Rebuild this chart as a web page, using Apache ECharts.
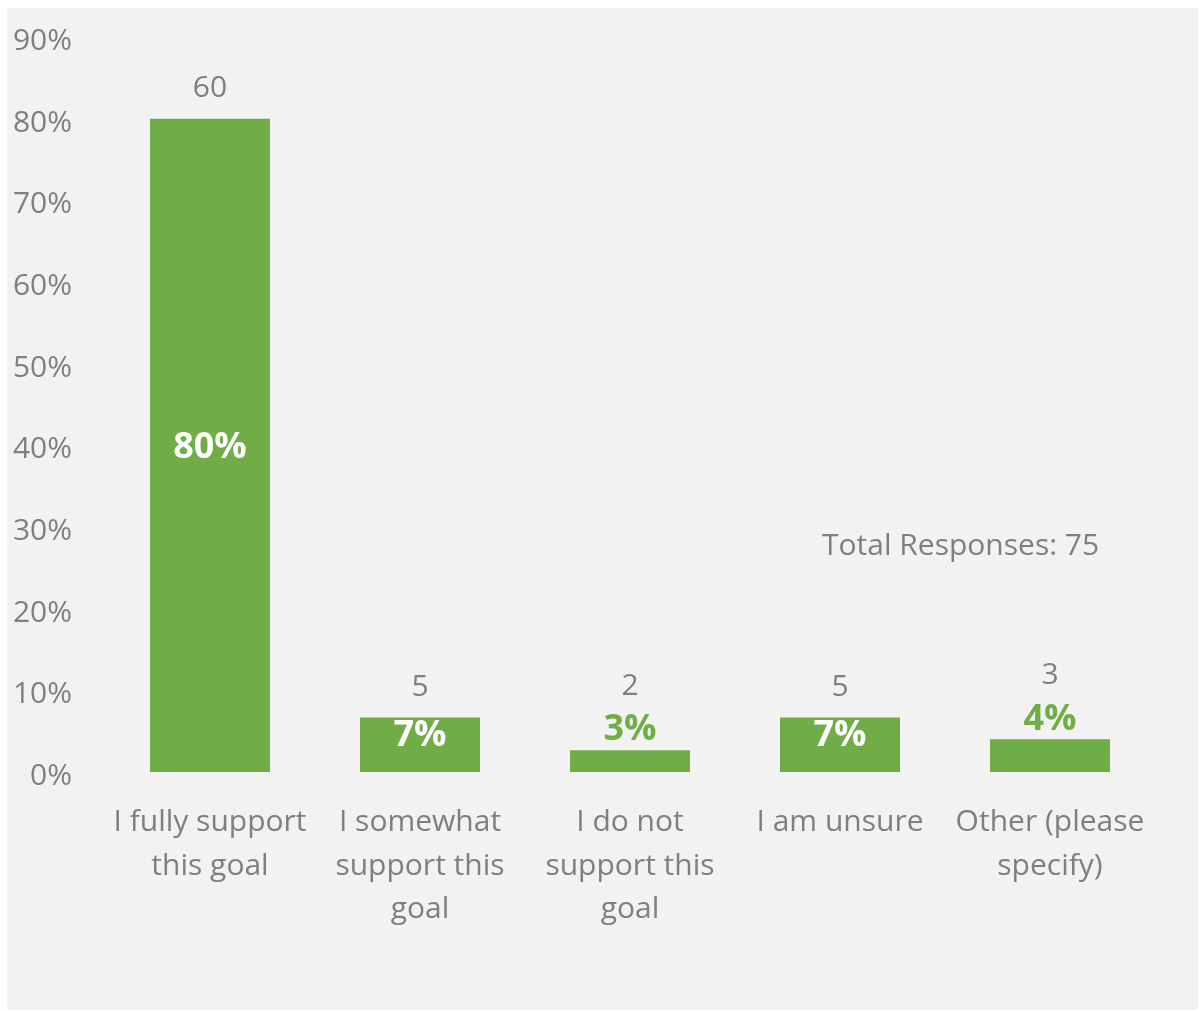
<!DOCTYPE html>
<html>
<head>
<meta charset="utf-8">
<title>Support for the goal</title>
<script src="https://cdn.jsdelivr.net/npm/echarts@6/dist/echarts.min.js"></script>
<style>
  html, body { margin: 0; padding: 0; background: #ffffff; }
  #chart { width: 1202px; height: 1011px; }
</style>
</head>
<body>
<div id="chart"></div>
<script>
// Survey answers and how many people picked each one
const categories = [
  'I fully support\nthis goal',
  'I somewhat\nsupport this\ngoal',
  'I do not\nsupport this\ngoal',
  'I am unsure',
  'Other (please\nspecify)'
];
const responseCounts = [60, 5, 2, 5, 3];
const totalResponses = 75;
const yTickLabels = ['0%', '10%', '20%', '30%', '40%', '50%', '60%', '70%', '80%', '90%'];

// Share of all responses, in percent
const shares = responseCounts.map(c => c / totalResponses * 100);

const GREEN = '#70ad47';
const GREY = '#7f7f7f';
const FONT = '"Open Sans", "Noto Sans", sans-serif';

// Short bars get their percentage written above them in green;
// taller ones carry it inside in white.
const isShort = v => v < 5;

const shareData = shares.map(v => ({
  value: v,
  label: isShort(v)
    ? { position: 'top', color: GREEN, distance: 2 }
    : (v < 10
        ? { position: 'inside', color: '#ffffff', offset: [0, -9] }
        : { position: 'inside', color: '#ffffff', offset: [0, 2] })
}));

const countData = shares.map(v => ({
  value: v,
  label: { distance: isShort(v) ? 49 : 15 }
}));

const chart = echarts.init(document.getElementById('chart'), null, { renderer: 'canvas' });

chart.setOption({
  backgroundColor: '#ffffff',
  animation: false,
  textStyle: { fontFamily: FONT },
  graphic: [
    {
      type: 'rect',
      z: -10,
      silent: true,
      shape: { x: 7, y: 8, width: 1191, height: 1002 },
      style: { fill: '#f2f2f2' }
    },
    {
      type: 'text',
      left: 822,
      top: 531,
      style: {
        text: 'Total Responses: ' + totalResponses,
        fill: GREY,
        font: '30px ' + FONT
      }
    }
  ],
  grid: { left: 105, right: 47, top: 37, bottom: 239, containLabel: false },
  xAxis: {
    type: 'category',
    data: categories,
    axisLine: { show: false },
    axisTick: { show: false },
    axisLabel: {
      color: GREY,
      fontSize: 30,
      lineHeight: 43.5,
      margin: 29,
      interval: 0,
      fontFamily: FONT
    }
  },
  yAxis: {
    type: 'value',
    min: 0,
    max: 90,
    interval: 10,
    splitLine: { show: false },
    axisLine: { show: false },
    axisTick: { show: false },
    axisLabel: {
      color: GREY,
      fontSize: 30,
      margin: 33,
      fontFamily: FONT,
      formatter: v => '{t|' + yTickLabels[Math.round(v / 10)] + '}',
      rich: {
        t: { color: GREY, fontSize: 30, fontFamily: FONT, padding: [9, 0, 0, 0] }
      }
    }
  },
  series: [
    {
      name: 'Share',
      type: 'bar',
      barWidth: 120,
      itemStyle: { color: GREEN },
      data: shareData,
      label: {
        show: true,
        fontSize: 36,
        fontWeight: 'bold',
        fontFamily: FONT,
        formatter: p => Math.round(p.value) + '%'
      },
      z: 2
    },
    {
      name: 'Responses',
      type: 'bar',
      barWidth: 120,
      barGap: '-100%',
      itemStyle: { color: 'rgba(0,0,0,0)' },
      data: countData,
      label: {
        show: true,
        position: 'top',
        color: GREY,
        fontSize: 30,
        fontFamily: FONT,
        formatter: p => String(responseCounts[p.dataIndex])
      },
      z: 3
    }
  ]
});
</script>
</body>
</html>
